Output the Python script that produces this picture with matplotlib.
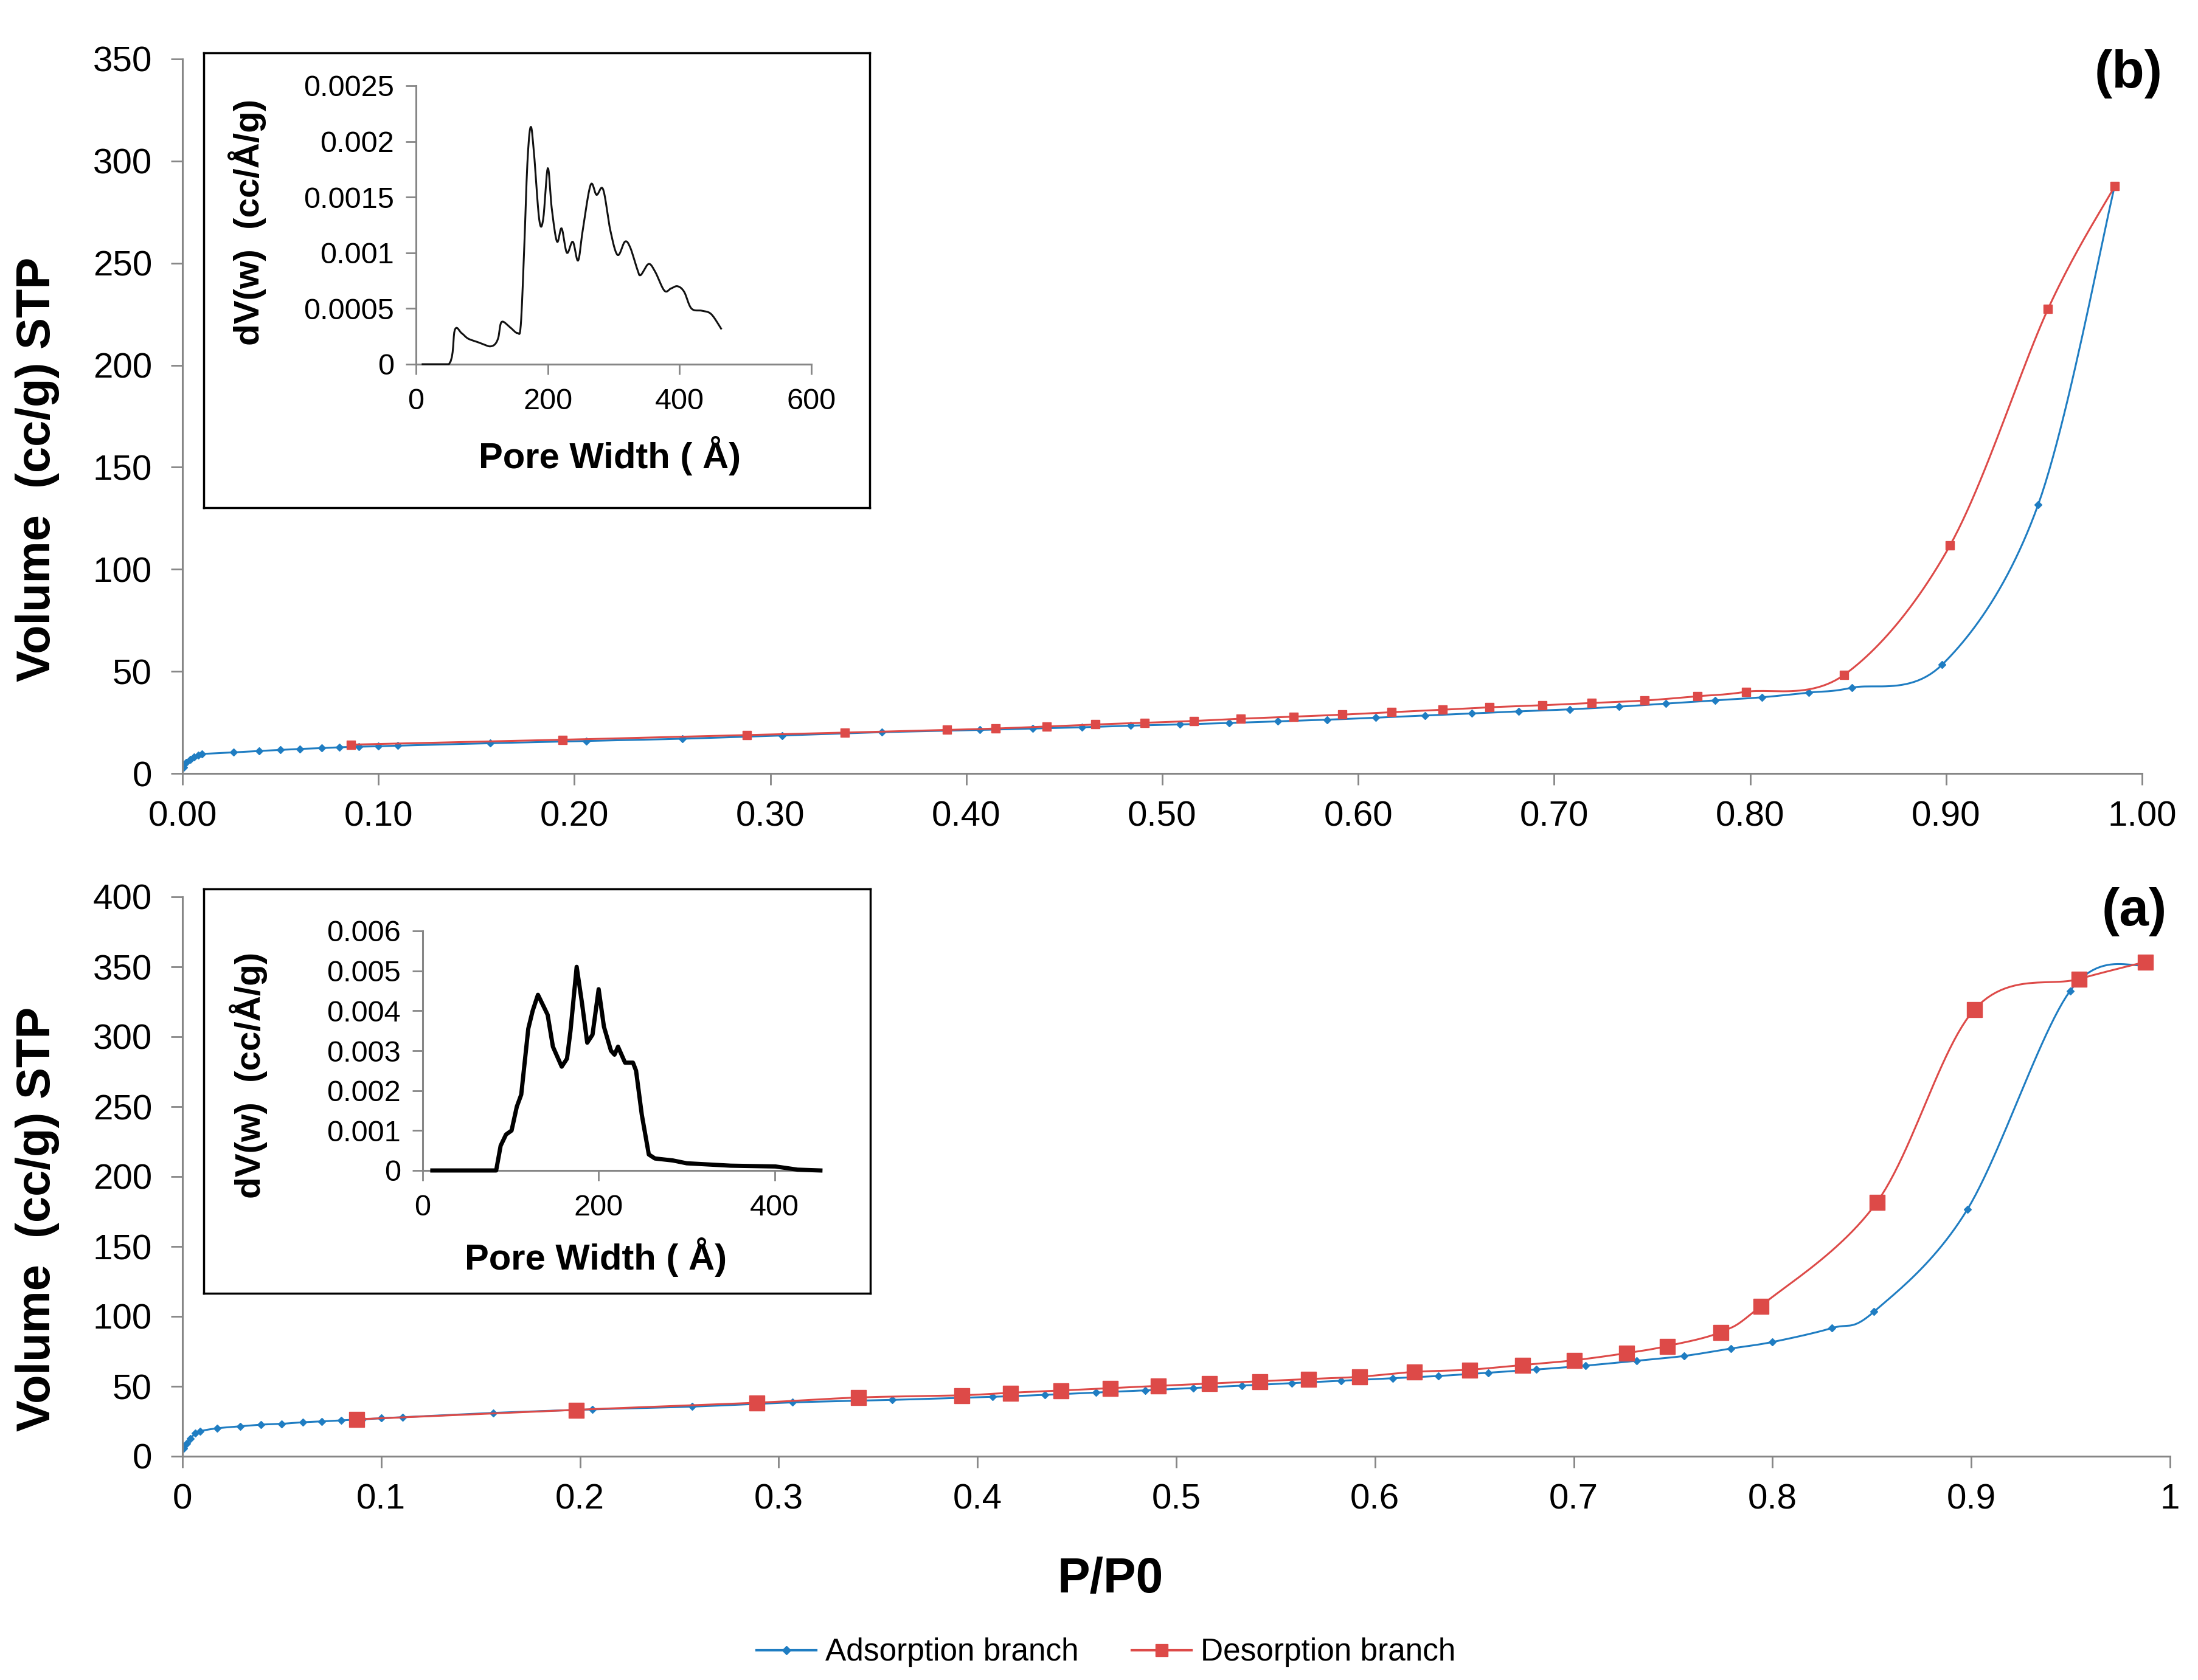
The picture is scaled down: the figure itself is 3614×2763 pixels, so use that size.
import numpy as np
import matplotlib.pyplot as plt
from matplotlib.ticker import FixedLocator, FixedFormatter

plt.rcParams["font.family"] = ["Liberation Sans", "DejaVu Sans"]

W, H = 3614, 2763
GRAY = '#868686'
BLUE = '#1f7dc2'
RED = '#dd4a48'

# ---- (b) isotherm ----
b_ads_x = [0.0005, 0.002, 0.004, 0.006, 0.008, 0.010, 0.026, 0.039, 0.050, 0.060, 0.071, 0.080, 0.090, 0.100,
           0.110, 0.157, 0.206, 0.255, 0.306, 0.357, 0.407, 0.434, 0.459, 0.484, 0.509, 0.534, 0.559, 0.584,
           0.609, 0.634, 0.658, 0.682, 0.708, 0.733, 0.757, 0.782, 0.806, 0.830, 0.852, 0.898, 0.947, 0.986]
b_ads_y = [3.0, 5.5, 7.0, 8.0, 8.8, 9.5, 10.3, 11.0, 11.5, 12.0, 12.4, 12.8, 13.1, 13.3,
           13.6, 14.8, 15.9, 17.0, 18.6, 20.2, 21.3, 22.0, 22.6, 23.4, 24.0, 24.7, 25.5, 26.3,
           27.3, 28.4, 29.4, 30.4, 31.4, 32.7, 34.2, 35.8, 37.3, 39.6, 42.0, 53.3, 131.7, 287.6]
b_des_x = [0.086, 0.194, 0.288, 0.338, 0.390, 0.415, 0.441, 0.466, 0.491, 0.516, 0.540, 0.567, 0.592,
           0.617, 0.643, 0.667, 0.694, 0.719, 0.746, 0.773, 0.798, 0.848, 0.902, 0.952, 0.986]
b_des_y = [14.1, 16.5, 18.8, 20.0, 21.3, 22.0, 23.0, 24.0, 24.8, 25.7, 26.8, 27.8, 28.8,
           30.0, 31.2, 32.4, 33.4, 34.5, 35.7, 37.8, 40.0, 48.3, 111.7, 227.5, 287.6]

# ---- (a) isotherm ----
a_ads_x = [0.0005, 0.002, 0.004, 0.0065, 0.009, 0.0175, 0.029, 0.0395, 0.050, 0.0605, 0.070, 0.080, 0.0907,
           0.100, 0.1107, 0.1565, 0.2063, 0.2565, 0.3068, 0.357, 0.4075, 0.434, 0.4595, 0.4843, 0.5085, 0.533,
           0.558, 0.583, 0.609, 0.632, 0.657, 0.681, 0.706, 0.7317, 0.7555, 0.779, 0.800, 0.830, 0.851, 0.898,
           0.9497, 0.9876]
a_ads_y = [5.5, 9.0, 12.5, 16.5, 18.0, 20.0, 21.4, 22.6, 23.2, 24.3, 24.9, 25.7, 26.4,
           27.2, 27.9, 31.0, 33.5, 35.5, 38.5, 40.3, 42.5, 43.9, 45.6, 47.1, 48.8, 50.5,
           52.2, 54.0, 55.8, 57.4, 59.7, 62.0, 64.8, 68.3, 71.7, 77.0, 81.7, 91.7, 103.3, 176.4,
           332.7, 351.5]
a_des_x = [0.0876, 0.198, 0.289, 0.340, 0.392, 0.4165, 0.442, 0.4666, 0.4907, 0.5166, 0.542, 0.5665, 0.592,
           0.6195, 0.6475, 0.674, 0.700, 0.7264, 0.747, 0.774, 0.794, 0.8525, 0.9016, 0.954, 0.9876]
a_des_y = [26.4, 33.2, 38.3, 42.0, 43.6, 45.4, 47.0, 48.7, 50.3, 52.0, 53.6, 55.2, 56.8,
           60.3, 61.9, 65.2, 68.6, 73.7, 78.8, 88.8, 107.3, 181.6, 319.5, 341.2, 353.5]

# ---- pore size distributions (insets) ----
pw_b = [10, 50, 59, 69, 79, 93, 106, 113, 120, 125, 130, 143, 154, 159, 164, 169, 174, 179, 187, 193, 200,
        206, 214, 221, 229, 238, 246, 253, 265, 274, 284, 295, 306, 317, 325, 336, 341, 353, 363, 377, 387,
        397, 407, 418, 434, 448, 463]
dv_b = [0, 0, 0.00031, 0.00028, 0.00023, 0.0002, 0.00017, 0.00016, 0.00018, 0.00024, 0.00038, 0.00033,
        0.00028, 0.00035, 0.0010, 0.0018, 0.00213, 0.0019, 0.0013, 0.0013, 0.00176, 0.0014, 0.0011, 0.00122,
        0.0010, 0.0011, 0.00093, 0.0012, 0.00161, 0.00152, 0.00157, 0.0012, 0.00098, 0.0011, 0.00105, 0.00085,
        0.0008, 0.0009, 0.00083, 0.00066, 0.00068, 0.0007, 0.00065, 0.0005, 0.00048, 0.00045, 0.00032]
pw_a = [11, 83.5, 88.6, 94.7, 101, 107, 112, 120, 125, 131, 142, 148, 158, 164, 168, 175, 181, 187, 193, 200,
        206, 214, 218, 222, 230, 239, 242.5, 249, 257, 264, 284.5, 300, 325, 350, 401, 426, 452]
dv_a = [0, 0, 0.00062, 0.0009, 0.001, 0.0016, 0.0019, 0.00355, 0.004, 0.0044, 0.0039, 0.0031, 0.0026,
        0.0028, 0.0035, 0.0051, 0.0042, 0.0032, 0.0034, 0.00454, 0.0036, 0.0030, 0.0029, 0.0031, 0.0027,
        0.0027, 0.0025, 0.0014, 0.0004, 0.0003, 0.00025, 0.00018, 0.00015, 0.00012, 0.0001, 0.00002, 0]


def smooth(x, y, n=24):
    # Excel-like smoothed line (Catmull-Rom as cubic Bezier)
    x = np.asarray(x, float)
    y = np.asarray(y, float)
    P = np.column_stack([x, y])
    out = [P[0]]
    t = np.linspace(0, 1, n + 1)[1:, None]
    for i in range(len(P) - 1):
        p0 = P[i - 1] if i > 0 else P[i]
        p3 = P[i + 2] if i + 2 < len(P) else P[i + 1]
        c1 = P[i] + (P[i + 1] - p0) / 6
        c2 = P[i + 1] - (p3 - P[i]) / 6
        seg = ((1 - t) ** 3) * P[i] + 3 * ((1 - t) ** 2) * t * c1 + 3 * (1 - t) * t ** 2 * c2 + t ** 3 * P[i + 1]
        out.extend(seg)
    out = np.array(out)
    return out[:, 0], out[:, 1]


def rect(l, t, r, b):
    return [l / W, 1 - b / H, (r - l) / W, (b - t) / H]


def style(ax, fs, tl):
    for s in ['top', 'right']:
        ax.spines[s].set_visible(False)
    for s in ['left', 'bottom']:
        ax.spines[s].set_color(GRAY)
        ax.spines[s].set_linewidth(2.2)
    ax.tick_params(direction='out', length=tl, width=2.0, color=GRAY, labelsize=fs, labelcolor='black')


fig = plt.figure(figsize=(W / 100, H / 100), dpi=100)

# top panel (b)
ax1 = fig.add_axes(rect(300, 97, 3522, 1272))
xs, ys = smooth(b_ads_x, b_ads_y)
ax1.plot(xs, ys, color=BLUE, lw=2.2)
ax1.plot(b_ads_x, b_ads_y, ls='none', marker='D', ms=6, color=BLUE)
xs, ys = smooth(b_des_x, b_des_y)
ax1.plot(xs, ys, color=RED, lw=2.2)
ax1.plot(b_des_x, b_des_y, ls='none', marker='s', ms=9.5, color=RED)
ax1.set_xlim(0, 1)
ax1.set_ylim(0, 350)
ax1.set_xticks(np.arange(0, 1.01, 0.1))
ax1.set_xticklabels(['%.2f' % v for v in np.arange(0, 1.01, 0.1)])
ax1.set_yticks(np.arange(0, 351, 50))
style(ax1, 42, 14)
ax1.tick_params(axis='y', pad=22)
ax1.tick_params(axis='x', pad=18)

# bottom panel (a)
ax2 = fig.add_axes(rect(300, 1475, 3568, 2395))
xs, ys = smooth(a_ads_x, a_ads_y)
ax2.plot(xs, ys, color=BLUE, lw=2.2)
ax2.plot(a_ads_x, a_ads_y, ls='none', marker='D', ms=6, color=BLUE)
xs, ys = smooth(a_des_x, a_des_y)
ax2.plot(xs, ys, color=RED, lw=2.2)
ax2.plot(a_des_x, a_des_y, ls='none', marker='s', ms=18, color=RED)
ax2.set_xlim(0, 1)
ax2.set_ylim(0, 400)
xt = np.round(np.arange(0, 1.01, 0.1), 1)
ax2.set_xticks(xt)
ax2.set_xticklabels(['0', '0.1', '0.2', '0.3', '0.4', '0.5', '0.6', '0.7', '0.8', '0.9', '1'])
ax2.set_yticks(np.arange(0, 401, 50))
style(ax2, 42, 14)
ax2.tick_params(axis='y', pad=22)
ax2.tick_params(axis='x', pad=18)

fig.text(3556 / W, 1 - 122 / H, '(b)', ha='right', va='center', fontsize=63, fontweight='bold')
fig.text(3563 / W, 1 - 1500 / H, '(a)', ha='right', va='center', fontsize=63, fontweight='bold')
fig.text(62 / W, 1 - 772 / H, 'Volume  (cc/g) STP', rotation=90, ha='center', va='center',
         fontsize=56, fontweight='bold')
fig.text(62 / W, 1 - 2005 / H, 'Volume  (cc/g) STP', rotation=90, ha='center', va='center',
         fontsize=56, fontweight='bold')
fig.text(1826 / W, 1 - 2598 / H, 'P/P0', ha='center', va='center', fontsize=58, fontweight='bold')

# inset (b)
box1 = fig.add_axes(rect(335, 87, 1430, 835))
box1.set_xticks([])
box1.set_yticks([])
for s in box1.spines.values():
    s.set_linewidth(2.5)
    s.set_color('black')
in1 = fig.add_axes(rect(684, 141, 1334, 599))
in1.patch.set_alpha(0)
xs, ys = smooth(pw_b, dv_b, n=8)
in1.plot(xs, np.clip(ys, 0, None), color='#111111', lw=2.2, zorder=3, clip_on=False)
in1.set_xlim(0, 600)
in1.set_ylim(0, 0.0025)
in1.set_xticks([0, 200, 400, 600])
in1.yaxis.set_major_locator(FixedLocator([0, 0.0005, 0.001, 0.0015, 0.002, 0.0025]))
in1.yaxis.set_major_formatter(FixedFormatter(['0', '0.0005', '0.001', '0.0015', '0.002', '0.0025']))
style(in1, 35, 12)
in1.tick_params(axis='y', pad=14)
in1.tick_params(axis='x', pad=16)
fig.text(1003 / W, 1 - 749 / H, 'Pore Width ( Å)', ha='center', va='center', fontsize=43, fontweight='bold')
fig.text(407 / W, 1 - 365 / H, 'dV(w)  (cc/Å/g)', rotation=90, ha='center', va='center',
         fontsize=42, fontweight='bold')

# inset (a)
box2 = fig.add_axes(rect(335, 1462, 1431, 2127))
box2.set_xticks([])
box2.set_yticks([])
for s in box2.spines.values():
    s.set_linewidth(2.5)
    s.set_color('black')
in2 = fig.add_axes(rect(695, 1531, 1346, 1925))
in2.patch.set_alpha(0)
in2.plot(pw_a, dv_a, color='black', lw=5, zorder=3, clip_on=False)
in2.set_xlim(0, 450)
in2.set_ylim(0, 0.006)
in2.set_xticks([0, 200, 400])
in2.yaxis.set_major_locator(FixedLocator([0, 0.001, 0.002, 0.003, 0.004, 0.005, 0.006]))
in2.yaxis.set_major_formatter(FixedFormatter(['0', '0.001', '0.002', '0.003', '0.004', '0.005', '0.006']))
style(in2, 35, 12)
in2.tick_params(axis='y', pad=14)
in2.tick_params(axis='x', pad=16)
fig.text(980 / W, 1 - 2068 / H, 'Pore Width ( Å)', ha='center', va='center', fontsize=43, fontweight='bold')
fig.text(408 / W, 1 - 1768 / H, 'dV(w)  (cc/Å/g)', rotation=90, ha='center', va='center',
         fontsize=42, fontweight='bold')

# legend
h1, = ax2.plot([], [], color=BLUE, lw=3, marker='D', ms=7)
h2, = ax2.plot([], [], color=RED, lw=3, marker='s', ms=14)
fig.legend([h1, h2], ['Adsorption branch', 'Desorption branch'], loc='center',
           bbox_to_anchor=(1819 / W, 1 - 2718 / H), ncol=2, frameon=False, fontsize=37,
           handlelength=1.9, columnspacing=1.7, handletextpad=0.3)

fig.savefig('out.png', dpi=100)
